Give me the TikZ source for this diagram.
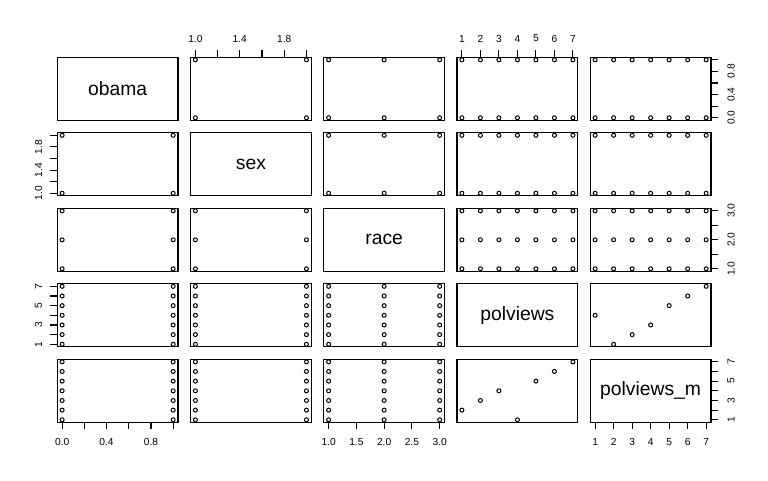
\documentclass[tikz,border=0pt]{standalone}
\usepackage{fontspec}
\setmainfont{Liberation Sans}
\def\PW{120.7}
\def\PH{63}
\newcommand\HAxis[7]{% #1 name, #2 panel left, #3 edge y, #4 dir, #5 intervals, #6 label y, #7 labels
  \draw[axisline] ({#2+\PW*0.04},#3) -- ({#2+\PW*0.96},#3);
  \foreach \k in {0,...,#5}{\draw[axisline] ({#2+\PW*(0.04+0.92*\k/#5)},#3) -- ++(0,{7*#4});}
  \foreach \k/\t in {#7}{\node[ticklab] (#1-\k) at ({#2+\PW*(0.04+0.92*\k/#5)},#6) {\t};}
}
\newcommand\VAxis[7]{% #1 name, #2 panel top, #3 edge x, #4 dir, #5 intervals, #6 label x, #7 labels
  \draw[axisline] (#3,{#2+\PH*0.04}) -- (#3,{#2+\PH*0.96});
  \foreach \k in {0,...,#5}{\draw[axisline] (#3,{#2+\PH*(0.96-0.92*\k/#5)}) -- ++({7*#4},0);}
  \foreach \k/\t in {#7}{\node[ticklab,rotate=90] (#1-\k) at (#6,{#2+\PH*(0.96-0.92*\k/#5)}) {\t};}
}
\begin{document}
\begin{tikzpicture}[x=1pt,y=-1pt,
  panel/.style={draw,line width=1.2pt},
  datapt/.style={draw,line width=1pt},
  axisline/.style={draw,line width=1.1pt},
  varlab/.style={font=\fontsize{19.3}{22}\selectfont,inner sep=0pt},
  ticklab/.style={font=\fontsize{10.2}{12}\selectfont,inner sep=0pt}]
\useasboundingbox (0,0) rectangle (768,480);
% panels and points
\foreach \i in {1,...,5}{
  \foreach \j in {1,...,5}{
    \pgfmathsetmacro\L{57.3+133.25*(\j-1)}
    \pgfmathsetmacro\T{57.3+75.5*(\i-1)}
    \draw[panel] (\L,\T) rectangle ++(\PW,\PH);
    \pgfmathtruncatemacro\nx{{2,2,3,7,7}[\j-1]-1}
    \pgfmathtruncatemacro\ny{{2,2,3,7,7}[\i-1]-1}
    \pgfmathtruncatemacro\sm{\i+\j}
    \ifnum\i=\j\relax\else
      \ifnum\sm=9\relax\else
        \foreach \a in {0,...,\nx}{
          \foreach \b in {0,...,\ny}{
            \draw[datapt] ({\L+\PW*(0.04+0.92*\a/\nx)},{\T+\PH*(0.96-0.92*\b/\ny)}) circle[radius=2];
          }}
      \fi
    \fi
  }}
% polviews (x) vs polviews_m (y): row 5, col 4
\foreach \a/\b in {0/1,1/2,2/3,3/0,4/4,5/5,6/6}{
  \draw[datapt] ({457.05+\PW*(0.04+0.92*\a/6)},{359.3+\PH*(0.96-0.92*\b/6)}) circle[radius=2];
}
% polviews_m (x) vs polviews (y): row 4, col 5
\foreach \a/\b in {0/3,1/0,2/1,3/2,4/4,5/5,6/6}{
  \draw[datapt] ({590.3+\PW*(0.04+0.92*\a/6)},{283.8+\PH*(0.96-0.92*\b/6)}) circle[radius=2];
}
% variable names
\node[varlab] (v1) at ({57.3+\PW/2},{57.3+\PH/2}) {obama};
\node[varlab] (v2) at ({190.55+\PW/2},{132.8+\PH/2}) {sex};
\node[varlab] (v3) at ({323.8+\PW/2},{208.3+\PH/2}) {race};
\node[varlab] (v4) at ({457.05+\PW/2},{283.8+\PH/2}) {polviews};
\node[varlab] (v5) at ({590.3+\PW/2},{359.3+\PH/2}) {polviews\_m};
% axes
\HAxis{top2}{190.55}{57.3}{-1}{5}{38.5}{0/1.0,2/1.4,4/1.8}
\HAxis{top4}{457.05}{57.3}{-1}{6}{38.5}{0/1,1/2,2/3,3/4,4/5,5/6,6/7}
\HAxis{bot1}{57.3}{422.3}{1}{5}{442.3}{0/0.0,2/0.4,4/0.8}
\HAxis{bot3}{323.8}{422.3}{1}{4}{442.3}{0/1.0,1/1.5,2/2.0,3/2.5,4/3.0}
\HAxis{bot5}{590.3}{422.3}{1}{6}{442.3}{0/1,1/2,2/3,3/4,4/5,5/6,6/7}
\VAxis{left2}{132.8}{57.3}{-1}{5}{38.5}{0/1.0,2/1.4,4/1.8}
\VAxis{left4}{283.8}{57.3}{-1}{6}{38.5}{0/1,2/3,4/5,6/7}
\VAxis{right1}{57.3}{711}{1}{5}{731}{0/0.0,2/0.4,4/0.8}
\VAxis{right3}{208.3}{711}{1}{4}{731}{0/1.0,2/2.0,4/3.0}
\VAxis{right5}{359.3}{711}{1}{6}{731}{0/1,2/3,4/5,6/7}
\end{tikzpicture}
\end{document}
